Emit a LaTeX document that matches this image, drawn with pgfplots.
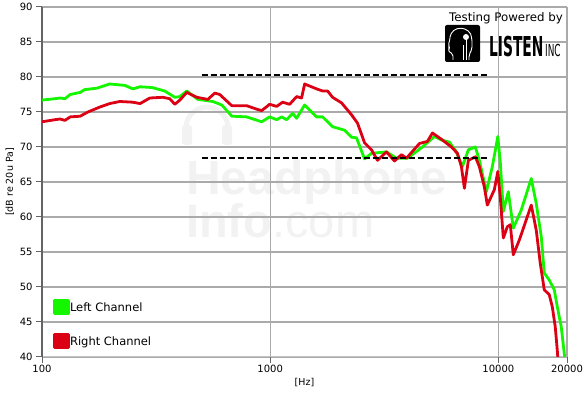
\documentclass[border=0pt]{standalone}
\usepackage{fontspec}
\setmainfont{DejaVu Sans}
\newfontfamily\wmfont{Liberation Sans}
\newfontfamily\condfont{DejaVu Sans Condensed}
\usepackage{graphicx}
\usepackage{pgfplots}
\pgfplotsset{compat=1.18}
\definecolor{lgreen}{RGB}{20,245,0}
\definecolor{rred}{RGB}{220,0,20}
\definecolor{wm}{RGB}{242,242,242}
\definecolor{gridc}{RGB}{170,170,170}
\definecolor{axc}{RGB}{100,100,100}

\pgfplotstableread{
f db
100 76.7
114 76.9
120 77.0
126 76.9
133 77.5
147 77.8
154 78.2
174 78.4
198 79.0
231 78.8
250 78.3
269 78.6
303 78.5
345 78.0
382 77.1
402 77.2
431 78.0
482 76.8
560 76.5
614 76.0
679 74.4
789 74.3
918 73.6
995 74.3
1068 73.9
1123 74.3
1181 73.9
1255 74.8
1306 74.1
1416 76.0
1598 74.3
1698 74.3
1877 72.9
2118 72.4
2273 71.4
2390 71.3
2592 68.3
2781 69.1
3234 69.3
3578 68.4
3999 68.4
4649 70.0
5248 71.5
5630 71.0
6104 70.7
6549 69.3
6959 67.2
7392 69.6
7929 70.0
8256 68.1
8860 63.6
9413 67.2
9950 71.5
10205 67.7
10517 60.8
11059 63.6
11631 58.4
12608 61.0
13945 65.5
14665 61.9
15424 57.2
15897 52.0
16720 51.0
17584 49.6
18126 47.2
18873 44.3
19452 40.5
20000 38.0
}\leftch

\pgfplotstableread{
f db
100 73.6
114 73.9
120 74.0
126 73.8
133 74.3
147 74.4
159 75.0
179 75.7
198 76.2
219 76.5
250 76.4
269 76.2
297 77.0
338 77.1
363 76.9
382 76.1
402 76.7
431 77.8
477 77.1
533 76.8
572 77.7
601 77.5
679 75.9
789 75.9
873 75.4
918 75.2
995 76.1
1068 75.8
1134 76.4
1217 76.1
1306 77.2
1373 77.0
1416 79.0
1598 78.3
1698 78.0
1785 78.0
1877 77.1
2055 76.3
2273 74.6
2415 73.4
2592 70.6
2781 69.6
2954 68.1
3234 69.3
3506 68.0
3763 68.9
3957 68.4
4511 70.5
4890 70.8
5143 72.0
5630 71.1
6229 70.0
6616 69.1
6889 67.2
7101 64.1
7392 68.1
7929 68.6
8256 67.2
8683 64.3
8950 61.7
9605 63.9
9950 66.5
10205 62.7
10517 57.0
10948 58.6
11284 58.9
11631 54.6
12357 56.7
13945 61.7
14665 58.1
15268 53.4
15897 49.6
16720 48.9
17234 47.2
17763 44.3
18126 41.0
18310 39.0
}\rightch

\begin{document}
\begin{tikzpicture}[x=1pt,y=1pt]
\useasboundingbox (-42,-38) rectangle (541,357);
% watermark
\node[anchor=base west, inner sep=0, text=wm, text depth=0pt, font=\wmfont\bfseries\fontsize{48}{48}\selectfont] at (144,162) {Headphone};
\node[anchor=base west, inner sep=0, text=wm, font=\wmfont\fontsize{47}{47}\selectfont] at (144,119) {\textbf{Info}.com};
\draw[wm, line width=5] (144,229) arc (180:0:21);
\fill[wm, rounded corners=3] (140,212) rectangle (150,232);
\fill[wm, rounded corners=3] (180,212) rectangle (190,232);

\begin{axis}[
  at={(0,0)}, anchor=south west,
  scale only axis, width=525pt, height=350pt,
  xmode=log, xmin=100, xmax=20000, ymin=40, ymax=90,
  xtick={100,1000,10000,20000}, xticklabels={100,1000,10000,20000},
  ytick={40,45,...,90},
  /pgf/number format/assume math mode=true,
  grid=major,
  major grid style={draw=gridc, line width=1.1pt},
  axis x line*=bottom, axis y line*=left,
  x axis line style={draw=gridc!70, line width=1pt},
  y axis line style={draw=axc, line width=1.6pt},
  tick align=outside, major tick length=6pt,
  tick style={draw=axc, line width=1pt},
  tick label style={font=\fontsize{10}{10}\selectfont},
  xticklabel style={yshift=1pt},
  xlabel={[Hz]}, ylabel={[dB re 20u Pa]},
  label style={font=\fontsize{9.5}{9.5}\selectfont},
  xlabel style={at={(axis description cs:0.5,-0.074)}, anchor=center},
  ylabel style={at={(axis description cs:-0.061,0.5)}, anchor=center},
  legend style={at={(axis description cs:0.021,0.166)}, anchor=north west,
    draw=none, fill=none, font=\fontsize{11.5}{11.5}\selectfont,
    row sep=18.5pt, inner sep=0pt, nodes={inner sep=0pt},
    /tikz/every even column/.append style={column sep=9pt}},
  legend cell align=left,
  legend image code/.code={\fill (0pt,-6pt) rectangle (14pt,7pt);},
]
\addplot[color=lgreen, line width=2.8pt, line join=round] table[x=f,y=db] {\leftch};
\addlegendentry{Left Channel}
\addplot[color=rred, line width=2.8pt, line join=round] table[x=f,y=db] {\rightch};
\addlegendentry{Right Channel}
\addplot[black, line width=1.8pt, dash pattern=on 6pt off 3pt, forget plot] coordinates {(501,80.3) (8950,80.3)};
\addplot[black, line width=1.8pt, dash pattern=on 6pt off 3pt, forget plot] coordinates {(501,68.4) (8950,68.4)};
\end{axis}

% logo
\node[anchor=base east, inner sep=0, font=\fontsize{11.8}{12}\selectfont] at (521,335) {Testing Powered by};
\fill[black, rounded corners=2] (403,295) rectangle (438,332);
\draw[white, line width=0.9pt, rounded corners=2] (411,297) -- (411,303) -- (406,306) -- (408,309) -- (406,312) -- (408,317) -- (408,322) -- (413,328) -- (421,329) -- (428,325) -- (430,318) -- (430,308) -- (427,302) -- (427,297);
\draw[white, line width=0.7pt] (421,297) -- (421,312) (424,297) -- (424,318);
\fill[white] (424,320) circle (3);
\node[anchor=base west, inner sep=0] at (447,300) {\scalebox{0.56}[1]{\condfont\bfseries\fontsize{27.4}{28}\selectfont LISTEN}};
\node[anchor=base west, inner sep=0] at (503,300) {\scalebox{0.6}[1]{\condfont\fontsize{16.5}{17}\selectfont INC}};
\end{tikzpicture}
\end{document}
